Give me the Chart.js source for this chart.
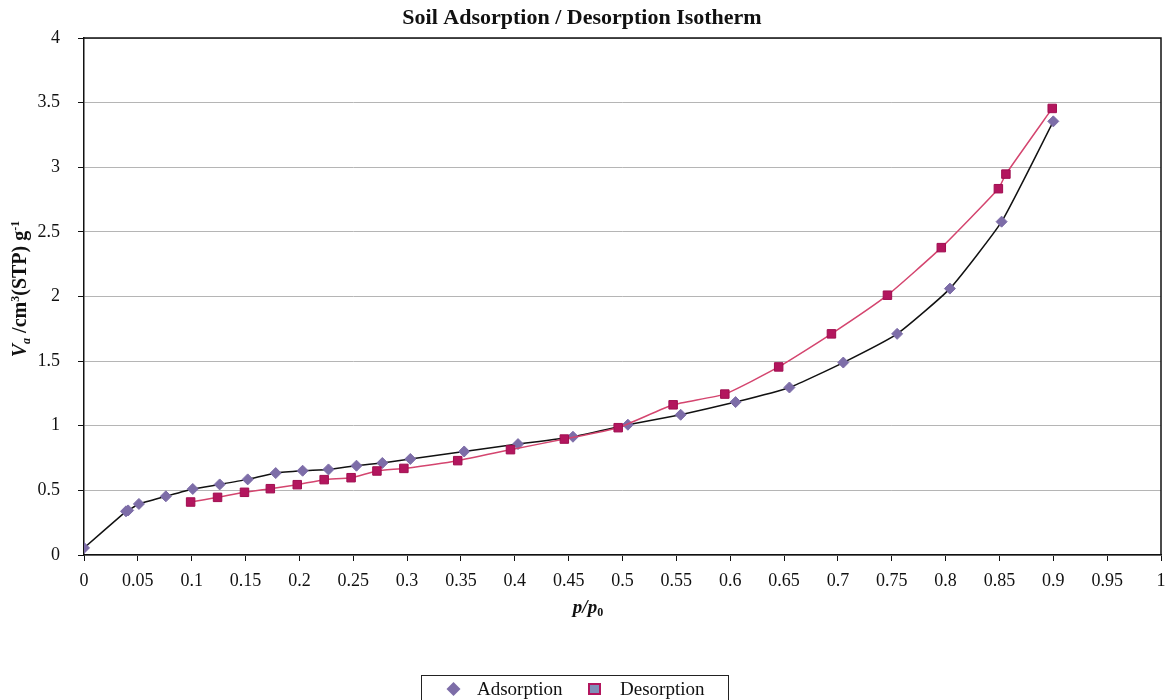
<!DOCTYPE html>
<html>
<head>
<meta charset="utf-8">
<script src="https://cdn.jsdelivr.net/npm/chart.js@4"></script>
<style>
  html, body { margin: 0; padding: 0; background: #fff; }
  #wrap { width: 1169px; height: 700px; position: relative; }
</style>
</head>
<body>
<div id="wrap"><canvas id="isotherm" width="1169" height="700"></canvas></div>
<script>
// Data
const adsorptionP = [0, 0.039, 0.041, 0.051, 0.076, 0.101, 0.126, 0.152, 0.178, 0.203, 0.227, 0.253, 0.277, 0.303, 0.353, 0.403, 0.454, 0.505, 0.554, 0.605, 0.655, 0.705, 0.755, 0.804, 0.852, 0.900];
const adsorptionV = [0.055, 0.338, 0.345, 0.395, 0.454, 0.511, 0.546, 0.585, 0.634, 0.652, 0.662, 0.691, 0.712, 0.743, 0.801, 0.858, 0.915, 1.008, 1.085, 1.183, 1.296, 1.489, 1.711, 2.061, 2.579, 3.355];
const desorptionP = [0.099, 0.124, 0.149, 0.173, 0.198, 0.223, 0.248, 0.272, 0.297, 0.347, 0.396, 0.446, 0.496, 0.547, 0.595, 0.645, 0.694, 0.746, 0.796, 0.849, 0.856, 0.899];
const desorptionV = [0.41, 0.446, 0.485, 0.513, 0.544, 0.583, 0.598, 0.65, 0.67, 0.73, 0.815, 0.897, 0.985, 1.162, 1.245, 1.455, 1.711, 2.01, 2.378, 2.834, 2.947, 3.455];

const xTicks = [0, 0.05, 0.1, 0.15, 0.2, 0.25, 0.3, 0.35, 0.4, 0.45, 0.5, 0.55, 0.6, 0.65, 0.7, 0.75, 0.8, 0.85, 0.9, 0.95, 1];
const yTicks = [0, 0.5, 1, 1.5, 2, 2.5, 3, 3.5, 4];

const seriesNames = ['Adsorption', 'Desorption'];
const titleText = 'Soil Adsorption / Desorption Isotherm';

const SERIF = '"Liberation Serif", "Times New Roman", serif';
const ADS_FILL = '#7d6da8';
const DES_FILL = '#b3165e';
const DES_LINE = '#d4456f';

function toPoints(xs, ys) {
    return xs.map((x, i) => ({ x: x, y: ys[i] }));
}

// draws runs of text: [{t, italic, small, shift}] starting at x, baseline y
function drawRuns(ctx, runs, x, y, size) {
    runs.forEach(r => {
        const s = r.small ? Math.round(size * 0.62) : size;
        ctx.font = (r.italic ? 'italic ' : '') + 'bold ' + s + 'px ' + SERIF;
        ctx.fillText(r.t, x, y + (r.shift || 0));
        x += ctx.measureText(r.t).width;
    });
}
function runsWidth(ctx, runs, size) {
    let w = 0;
    runs.forEach(r => {
        const s = r.small ? Math.round(size * 0.62) : size;
        ctx.font = (r.italic ? 'italic ' : '') + 'bold ' + s + 'px ' + SERIF;
        w += ctx.measureText(r.t).width;
    });
    return w;
}

const decorPlugin = {
    id: 'decor',
    afterDraw(chart) {
        const ctx = chart.ctx;
        const a = chart.chartArea;
        ctx.save();

        // frame (top / right)
        ctx.strokeStyle = '#111';
        ctx.lineWidth = 1.5;
        ctx.beginPath();
        ctx.moveTo(a.left, a.top);
        ctx.lineTo(a.right, a.top);
        ctx.lineTo(a.right, a.bottom);
        ctx.stroke();

        ctx.fillStyle = '#111';
        ctx.textBaseline = 'alphabetic';
        ctx.textAlign = 'left';

        // title
        ctx.font = 'bold 22px ' + SERIF;
        const tw = ctx.measureText(titleText).width;
        ctx.fillText(titleText, 582 - tw / 2, 24);

        // x axis title p/p0
        const xRuns = [
            { t: 'p/p', italic: true },
            { t: '0', small: true, shift: 3 }
        ];
        const xw = runsWidth(ctx, xRuns, 19);
        drawRuns(ctx, xRuns, 588 - xw / 2, 613, 19);

        // y axis title
        const yRuns = [
            { t: 'V', italic: true },
            { t: 'a', italic: true, small: true, shift: 4 },
            { t: ' /cm' },
            { t: '3', small: true, shift: -7 },
            { t: '(STP) g' },
            { t: '-1', small: true, shift: -7 }
        ];
        const yw = runsWidth(ctx, yRuns, 20);
        ctx.save();
        ctx.translate(26, 289);
        ctx.rotate(-Math.PI / 2);
        drawRuns(ctx, yRuns, -yw / 2, 0, 20);
        ctx.restore();

        // legend box
        ctx.strokeStyle = '#222';
        ctx.lineWidth = 1;
        ctx.strokeRect(421.5, 675.5, 307, 30);

        ctx.fillStyle = ADS_FILL;
        ctx.beginPath();
        ctx.moveTo(453.5, 682);
        ctx.lineTo(460.5, 689);
        ctx.lineTo(453.5, 696);
        ctx.lineTo(446.5, 689);
        ctx.closePath();
        ctx.fill();

        ctx.fillStyle = '#7f8fb8';
        ctx.fillRect(589, 684, 11, 10);
        ctx.strokeStyle = DES_FILL;
        ctx.lineWidth = 2;
        ctx.strokeRect(589, 684, 11, 10);

        ctx.fillStyle = '#111';
        ctx.font = '19px ' + SERIF;
        ctx.textBaseline = 'middle';
        ctx.fillText(seriesNames[0], 477, 690);
        ctx.fillText(seriesNames[1], 620, 690);

        ctx.restore();
    }
};

const ctx = document.getElementById('isotherm').getContext('2d');
const chart = new Chart(ctx, {
    type: 'scatter',
    data: {
        datasets: [
            {
                label: seriesNames[0],
                data: toPoints(adsorptionP, adsorptionV),
                showLine: true,
                borderColor: '#111',
                borderWidth: 1.5,
                pointStyle: 'rectRot',
                pointRadius: 5.5,
                pointBackgroundColor: ADS_FILL,
                pointBorderColor: ADS_FILL,
                pointBorderWidth: 1,
                tension: 0.15,
                order: 2
            },
            {
                label: seriesNames[1],
                data: toPoints(desorptionP, desorptionV),
                showLine: true,
                borderColor: DES_LINE,
                borderWidth: 1.5,
                pointStyle: 'rect',
                pointRadius: 6,
                pointBackgroundColor: DES_FILL,
                pointBorderColor: '#a00e50',
                pointBorderWidth: 1,
                tension: 0.15,
                order: 1
            }
        ]
    },
    options: {
        responsive: false,
        animation: false,
        devicePixelRatio: 1,
        layout: { padding: { top: 38, right: 8, left: 0, bottom: 0 } },
        plugins: {
            legend: { display: false },
            title: { display: false },
            tooltip: { enabled: false }
        },
        scales: {
            x: {
                type: 'linear',
                min: 0,
                max: 1,
                afterBuildTicks: s => { s.ticks = xTicks.map(v => ({ value: v })); },
                afterFit: s => {
                    s.height = 145;
                    s.paddingLeft = 0;
                    s.paddingRight = 0;
                },
                ticks: {
                    color: '#111',
                    font: { family: SERIF, size: 18 },
                    padding: 9,
                    maxRotation: 0,
                    callback: v => String(v)
                },
                grid: {
                    drawOnChartArea: false,
                    drawTicks: true,
                    tickLength: 6,
                    tickColor: '#111'
                },
                border: { color: '#111', width: 1.5 }
            },
            y: {
                type: 'linear',
                min: 0,
                max: 4,
                afterBuildTicks: s => { s.ticks = yTicks.map(v => ({ value: v })); },
                afterFit: s => { s.width = 84; },
                ticks: {
                    color: '#111',
                    font: { family: SERIF, size: 18 },
                    padding: 18,
                    callback: v => String(v)
                },
                grid: {
                    color: '#b5b5b5',
                    lineWidth: 1,
                    drawTicks: true,
                    tickLength: 6,
                    tickColor: '#111'
                },
                border: { color: '#111', width: 1.5 }
            }
        }
    },
    plugins: [decorPlugin]
});
</script>
</body>
</html>
